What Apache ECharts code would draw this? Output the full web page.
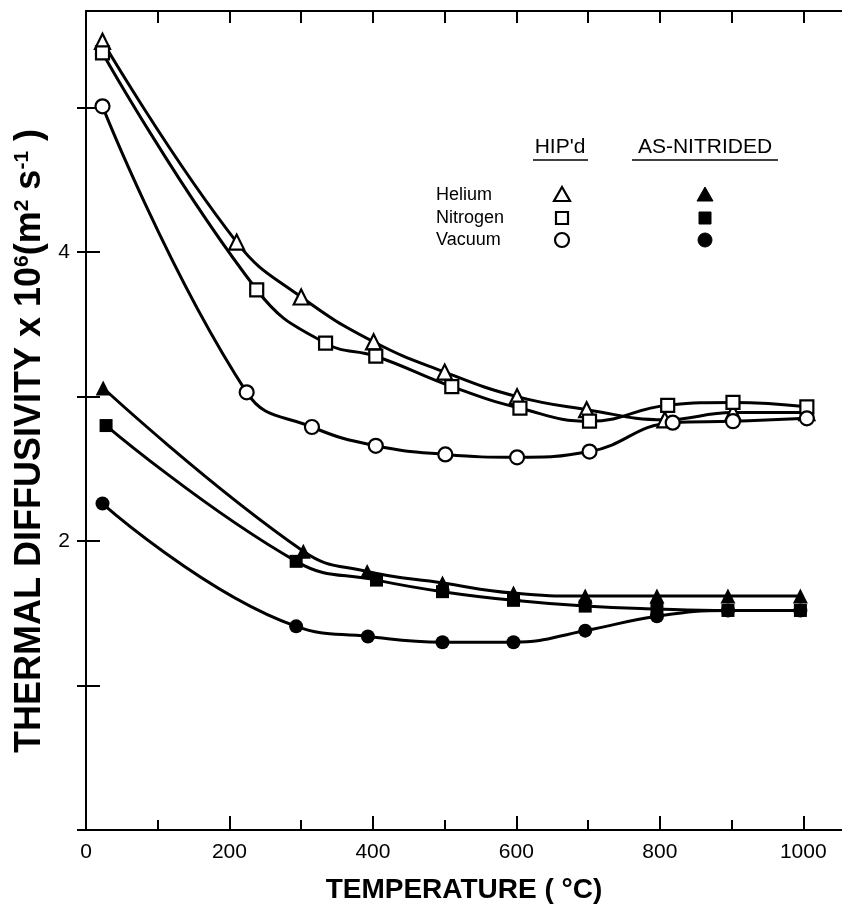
<!DOCTYPE html>
<html><head><meta charset="utf-8">
<script src="https://cdn.jsdelivr.net/npm/echarts@6/dist/echarts.min.js"></script>
<style>html,body{margin:0;padding:0;background:#fff;overflow:hidden}#c{width:842px;height:911px}</style>
</head><body><div id="c"></div>
<script>
// ---- data (temperature °C, thermal diffusivity x10^6 m^2/s) ----
const xTickLabels = ['0', '200', '400', '600', '800', '1000'];
const yTickLabels = ['2', '4'];
const xTickValues = [0, 100, 200, 300, 400, 500, 600, 700, 800, 900, 1000];
const xMajorValues = [0, 200, 400, 600, 800, 1000];
const yTickValues = [0, 1, 2, 3, 4, 5];

const hipHeliumT   = [23, 210, 300, 401, 500, 601, 698, 807, 902, 1005];
const hipHeliumV   = [5.46, 4.07, 3.69, 3.38, 3.17, 3.00, 2.91, 2.84, 2.89, 2.89];
const hipNitrogenT = [23, 238, 334, 404, 510, 605, 702, 811, 902, 1005];
const hipNitrogenV = [5.38, 3.74, 3.37, 3.28, 3.07, 2.92, 2.83, 2.94, 2.96, 2.93];
const hipVacuumT   = [23, 224, 315, 404, 501, 601, 702, 818, 902, 1005];
const hipVacuumV   = [5.01, 3.03, 2.79, 2.66, 2.60, 2.58, 2.62, 2.82, 2.83, 2.85];

const nitHeliumT   = [24, 303, 392, 497, 596, 696, 796, 895, 996];
const nitHeliumV   = [3.06, 1.93, 1.79, 1.71, 1.64, 1.62, 1.62, 1.62, 1.62];
const nitNitrogenT = [28, 293, 405, 497, 596, 696, 796, 895, 996];
const nitNitrogenV = [2.80, 1.86, 1.73, 1.65, 1.59, 1.55, 1.53, 1.52, 1.52];
const nitVacuumT   = [23, 293, 393, 497, 596, 696, 796, 895, 996];
const nitVacuumV   = [2.26, 1.41, 1.34, 1.30, 1.30, 1.38, 1.48, 1.52, 1.52];

const legendRows = ['Helium', 'Nitrogen', 'Vacuum'];
const legendHeads = ["HIP'd", 'AS-NITRIDED'];

// ---- chart ----
const zip = (a, b) => a.map((t, i) => [t, b[i]]);
const FONT = '"Liberation Sans", Arial, Helvetica, sans-serif';
const chart = echarts.init(document.getElementById('c'), null, {renderer: 'canvas'});

function mkSeries(name, T, V, symbol, size, open) {
  return {
    name, type: 'line', data: zip(T, V), smooth: 0.45,
    symbol, symbolSize: size, showAllSymbol: true,
    lineStyle: {color: '#000', width: 3},
    itemStyle: open ? {color: '#fff', borderColor: '#000', borderWidth: 2.2}
                    : {color: '#000', borderColor: '#000', borderWidth: 0},
    emphasis: {disabled: true}, animation: false, z: open ? 3 : 2
  };
}

const axisLine = {show: true, lineStyle: {color: '#000', width: 2}};
const tickStyle = {color: '#000', width: 2};
const X_MAX = 1054, Y_MAX = 5.67;

const option = {
  backgroundColor: '#fff',
  animation: false,
  grid: {left: 86, right: 0, top: 11, bottom: 81, containLabel: false},
  xAxis: [
    {type: 'value', position: 'bottom', min: 0, max: X_MAX, interval: 100,
     axisLine, splitLine: {show: false},
     axisTick: {show: true, inside: true, length: 10, lineStyle: tickStyle, customValues: xTickValues},
     axisLabel: {color: '#000', fontFamily: FONT, fontSize: 21, margin: 12, customValues: xMajorValues,
       formatter: v => { const s = String(v); return xTickLabels.includes(s) ? s : ''; }},
     name: 'TEMPERATURE ( °C)', nameLocation: 'middle', nameGap: 46,
     nameTextStyle: {color: '#000', fontFamily: FONT, fontWeight: 'bold', fontSize: 28}},
    {type: 'value', position: 'bottom', min: 0, max: X_MAX, interval: 200,
     axisLine: {show: false}, splitLine: {show: false}, axisLabel: {show: false},
     axisTick: {show: true, inside: true, length: 14, lineStyle: tickStyle, customValues: xMajorValues}},
    {type: 'value', position: 'top', min: 0, max: X_MAX, interval: 100,
     axisLine, splitLine: {show: false}, axisLabel: {show: false},
     axisTick: {show: true, inside: true, length: 12, lineStyle: tickStyle, customValues: xTickValues}}
  ],
  yAxis: [
    {type: 'value', position: 'left', min: 0, max: Y_MAX, interval: 1,
     axisLine, splitLine: {show: false},
     axisTick: {show: true, inside: true, length: 14, lineStyle: tickStyle, customValues: yTickValues},
     axisLabel: {color: '#000', fontFamily: FONT, fontSize: 21, margin: 16, customValues: [2, 4],
       formatter: v => { const s = String(v); return yTickLabels.includes(s) ? s : ''; }}},
    {type: 'value', position: 'right', min: 0, max: Y_MAX, interval: 1,
     axisLine: {show: false}, splitLine: {show: false}, axisLabel: {show: false},
     axisTick: {show: true, inside: true, length: 9, lineStyle: tickStyle, customValues: yTickValues}}
  ],
  series: [
    mkSeries('HIP Helium', hipHeliumT, hipHeliumV, 'triangle', 15, true),
    mkSeries('HIP Nitrogen', hipNitrogenT, hipNitrogenV, 'rect', 13, true),
    mkSeries('HIP Vacuum', hipVacuumT, hipVacuumV, 'circle', 14, true),
    mkSeries('AN Helium', nitHeliumT, nitHeliumV, 'triangle', 15, false),
    mkSeries('AN Nitrogen', nitNitrogenT, nitNitrogenV, 'rect', 13, false),
    mkSeries('AN Vacuum', nitVacuumT, nitVacuumV, 'circle', 14, false)
  ],
  graphic: []
};

// y-axis title (rotated, with superscripts)
option.graphic.push({
  type: 'text', x: 30, y: 441, rotation: Math.PI / 2, silent: true,
  style: {
    text: 'THERMAL DIFFUSIVITY x 10{s|6}(m{s|2} s{s|-1} )',
    font: 'bold 36px ' + FONT, fill: '#000', align: 'center', verticalAlign: 'middle',
    rich: {s: {fontFamily: FONT, fontWeight: 'bold', fontSize: 21, verticalAlign: 'top', fill: '#000', lineHeight: 36}}
  }
});

// legend block
const colHip = 562, colNit = 705, rowY = [195, 218, 240], headY = 147, textX = 436;
legendHeads.forEach((h, i) => {
  const cx = i === 0 ? 560 : 705;
  option.graphic.push({type: 'text', x: cx, y: headY, silent: true,
    style: {text: h, font: '21px ' + FONT, fill: '#000', align: 'center', verticalAlign: 'middle'}});
});
option.graphic.push({type: 'line', silent: true, shape: {x1: 533, y1: 160, x2: 588, y2: 160}, style: {stroke: '#000', lineWidth: 1.5}});
option.graphic.push({type: 'line', silent: true, shape: {x1: 632, y1: 160, x2: 778, y2: 160}, style: {stroke: '#000', lineWidth: 1.5}});
legendRows.forEach((r, i) => {
  option.graphic.push({type: 'text', x: textX, y: rowY[i], silent: true,
    style: {text: r, font: '18px ' + FONT, fill: '#000', align: 'left', verticalAlign: 'middle'}});
});
function legendMarker(kind, cx, cy, open) {
  const st = open ? {fill: '#fff', stroke: '#000', lineWidth: 2.2} : {fill: '#000', stroke: '#000', lineWidth: 1};
  if (kind === 0) return {type: 'polygon', silent: true, shape: {points: [[cx, cy - 8], [cx + 8, cy + 6], [cx - 8, cy + 6]]}, style: st};
  if (kind === 1) return {type: 'rect', silent: true, shape: {x: cx - 6, y: cy - 6, width: 12, height: 12}, style: st};
  return {type: 'circle', silent: true, shape: {cx, cy, r: 7}, style: st};
}
[0, 1, 2].forEach(k => {
  option.graphic.push(legendMarker(k, colHip, rowY[k], true));
  option.graphic.push(legendMarker(k, colNit, rowY[k], false));
});

chart.setOption(option);
</script></body></html>
